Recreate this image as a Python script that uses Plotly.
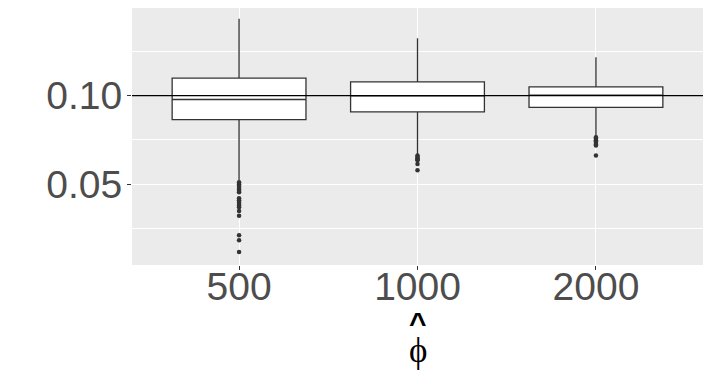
import plotly.graph_objects as go

# data
groups = ["500", "1000", "2000"]
q1 = [0.0865, 0.0908, 0.0934]
median = [0.0978, 0.0998, 0.1002]
q3 = [0.1099, 0.1077, 0.1049]
lower = [0.0522, 0.0666, 0.0768]
upper = [0.1433, 0.1324, 0.1217]

out_500 = [0.0511, 0.0500, 0.0490, 0.0480, 0.0470, 0.0462, 0.0455,
           0.0421, 0.0410, 0.0400, 0.0390, 0.0380, 0.0371,
           0.0350, 0.0322, 0.0213, 0.0185, 0.0118]
out_1000 = [0.0663, 0.0655, 0.0647, 0.0640, 0.0635, 0.0614, 0.0579]
out_2000 = [0.0765, 0.0757, 0.0749, 0.0741, 0.0733, 0.0725, 0.0719, 0.0663]

ref_value = 0.10

fig = go.Figure()

fig.add_trace(go.Box(
    x=groups, q1=q1, median=median, q3=q3,
    lowerfence=lower, upperfence=upper,
    fillcolor="white", line=dict(color="#333333", width=1.3),
    whiskerwidth=0, width=0.75, boxpoints=False, showlegend=False,
))

outliers = {"500": out_500, "1000": out_1000, "2000": out_2000}
for g, vals in outliers.items():
    fig.add_trace(go.Scatter(
        x=[g] * len(vals), y=vals, mode="markers",
        marker=dict(color="#333333", size=4.5), showlegend=False,
    ))

fig.add_hline(y=ref_value, line=dict(color="black", width=1.2), layer="above")

# the page body adds an 8px offset, margins are set with that in mind
fig.update_layout(
    width=711, height=384,
    margin=dict(l=124, r=16, t=0, b=127, autoexpand=False),
    paper_bgcolor="white", plot_bgcolor="#EBEBEB",
    font=dict(family="Liberation Sans, Arial", color="#4D4D4D"),
)

fig.update_xaxes(
    type="category", range=[-0.6, 2.6], automargin=False,
    showgrid=True, gridcolor="white", gridwidth=1.2,
    ticks="outside", ticklen=4, tickcolor="#333333", ticklabelstandoff=-17,
    tickfont=dict(size=39, color="#4D4D4D"), zeroline=False,
)
fig.update_yaxes(
    range=[0.0045, 0.1494], automargin=False,
    tickvals=[0.05, 0.10], ticktext=["0.05", "0.10"],
    showgrid=True, gridcolor="white", gridwidth=1.2,
    minor=dict(tickvals=[0.025, 0.075, 0.125], showgrid=True,
               gridcolor="white", gridwidth=0.6, ticks=""),
    ticks="outside", ticklen=4, tickcolor="#333333", ticklabelstandoff=-3,
    tickfont=dict(size=39, color="#4D4D4D"), zeroline=False,
)

# axis title: phi with a hat
fig.add_annotation(text="<b>^</b>", x=0.5, xref="paper", y=-0.225, yref="paper",
                   yanchor="middle", showarrow=False,
                   font=dict(size=30, color="black", family="Liberation Sans"))
fig.add_annotation(text="ϕ", x=0.5, xref="paper", y=-0.331, yref="paper",
                   yanchor="middle", showarrow=False,
                   font=dict(size=35, color="black", family="Liberation Serif"))

fig.write_html("out.html")
